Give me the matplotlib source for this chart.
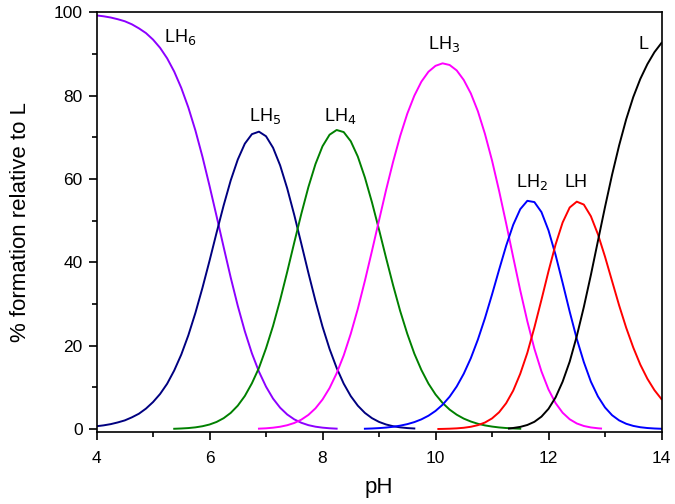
import matplotlib
matplotlib.use("Agg")
from matplotlib import pyplot as plt
from matplotlib.ticker import MultipleLocator

plt.rcParams['font.family'] = ['Liberation Sans', 'DejaVu Sans']

# species distribution (pH, % formation)
ph_lh6 = [4.0, 4.125, 4.25, 4.375, 4.5, 4.625, 4.75, 4.875, 5.0, 5.125, 5.25, 5.375,
          5.5, 5.625, 5.75, 5.875, 6.0, 6.125, 6.25, 6.375, 6.5, 6.625, 6.75, 6.875,
          7.0, 7.125, 7.25, 7.375, 7.5, 7.625, 7.75, 7.875, 8.0, 8.125, 8.25]
lh6 = [99.3, 99.09, 98.8, 98.39, 97.9, 97.17, 96.2, 95.06, 93.5, 91.52, 89.0, 85.82,
       81.9, 77.21, 71.7, 65.38, 58.4, 51.11, 43.7, 36.39, 29.6, 23.49, 18.2, 13.8,
       10.2, 7.32, 5.14, 3.52, 2.35, 1.53, 0.96, 0.59, 0.36, 0.21, 0.12]

ph_lh5 = [4.0, 4.125, 4.25, 4.375, 4.5, 4.625, 4.75, 4.875, 5.0, 5.125, 5.25, 5.375,
          5.5, 5.625, 5.75, 5.875, 6.0, 6.125, 6.25, 6.375, 6.5, 6.625, 6.75, 6.875,
          7.0, 7.125, 7.25, 7.375, 7.5, 7.625, 7.75, 7.875, 8.0, 8.125, 8.25, 8.375,
          8.5, 8.625, 8.75, 8.875, 9.0, 9.125, 9.25, 9.375, 9.5, 9.625]
lh5 = [0.7, 0.91, 1.2, 1.61, 2.1, 2.83, 3.7, 4.93, 6.5, 8.44, 10.9, 14.08,
       17.9, 22.52, 27.9, 33.92, 40.4, 47.16, 53.7, 59.7, 64.7, 68.52, 70.8, 71.4,
       70.3, 67.53, 63.3, 57.79, 51.4, 44.5, 37.5, 30.8, 24.6, 19.24, 14.7, 10.92,
       7.93, 5.63, 3.9, 2.64, 1.74, 1.12, 0.7, 0.43, 0.26, 0.16]

ph_lh4 = [5.375, 5.5, 5.625, 5.75, 5.875, 6.0, 6.125, 6.25, 6.375, 6.5, 6.625, 6.75,
          6.875, 7.0, 7.125, 7.25, 7.375, 7.5, 7.625, 7.75, 7.875, 8.0, 8.125, 8.25,
          8.375, 8.5, 8.625, 8.75, 8.875, 9.0, 9.125, 9.25, 9.375, 9.5, 9.625, 9.75,
          9.875, 10.0, 10.125, 10.25, 10.375, 10.5, 10.625, 10.75, 10.875, 11.0, 11.125,
          11.25, 11.375, 11.5]
lh4 = [0.09, 0.16, 0.26, 0.43, 0.7, 1.11, 1.73, 2.63, 3.9, 5.64, 7.96, 11.0,
       14.7, 19.4, 24.8, 31.0, 37.75, 44.8, 51.69, 58.1, 63.61, 67.9, 70.67, 71.8,
       71.3, 69.1, 65.41, 60.4, 54.45, 47.9, 41.1, 34.5, 28.34, 22.9, 18.13, 14.2,
       10.93, 8.33, 6.29, 4.69, 3.47, 2.53, 1.83, 1.29, 0.9, 0.62, 0.41,
       0.27, 0.17, 0.1]

ph_lh3 = [6.875, 7.0, 7.125, 7.25, 7.375, 7.5, 7.625, 7.75, 7.875, 8.0, 8.125, 8.25,
          8.375, 8.5, 8.625, 8.75, 8.875, 9.0, 9.125, 9.25, 9.375, 9.5, 9.625, 9.75,
          9.875, 10.0, 10.125, 10.25, 10.375, 10.5, 10.625, 10.75, 10.875, 11.0, 11.125,
          11.25, 11.375, 11.5, 11.625, 11.75, 11.875, 12.0, 12.125, 12.25, 12.375, 12.5,
          12.625, 12.75, 12.875, 12.93]
lh3 = [0.12, 0.2, 0.35, 0.58, 0.94, 1.48, 2.28, 3.42, 4.99, 7.11, 9.87, 13.4,
       17.7, 22.9, 28.88, 35.6, 42.76, 50.1, 57.4, 64.2, 70.38, 75.7, 80.03, 83.4,
       85.78, 87.2, 87.8, 87.4, 86.1, 83.8, 80.58, 76.3, 70.87, 64.5, 57.22,
       49.4, 41.27, 33.3, 25.9, 19.3, 13.86, 9.52, 6.26, 3.94, 2.37, 1.37,
       0.76, 0.41, 0.21, 0.15]

ph_lh2 = [8.75, 8.875, 9.0, 9.125, 9.25, 9.375, 9.5, 9.625, 9.75, 9.875, 10.0, 10.125,
          10.25, 10.375, 10.5, 10.625, 10.75, 10.875, 11.0, 11.125, 11.25, 11.375, 11.5,
          11.625, 11.75, 11.875, 12.0, 12.125, 12.25, 12.375, 12.5, 12.625, 12.75, 12.875,
          13.0, 13.125, 13.25, 13.375, 13.5, 13.625, 13.75, 13.875, 14.0]
lh2 = [0.1, 0.16, 0.25, 0.38, 0.57, 0.84, 1.2, 1.69, 2.35, 3.22, 4.37, 5.86,
       7.79, 10.24, 13.3, 17.03, 21.5, 26.63, 32.3, 38.24, 44.0, 49.04, 52.8,
       54.8, 54.5, 52.1, 47.7, 41.83, 35.1, 28.2, 21.7, 16.1, 11.4, 7.85,
       5.21, 3.35, 2.1, 1.29, 0.78, 0.46, 0.27, 0.16, 0.09]

ph_lh = [10.05, 10.125, 10.25, 10.375, 10.5, 10.625, 10.75, 10.875, 11.0, 11.125, 11.25,
         11.375, 11.5, 11.625, 11.75, 11.875, 12.0, 12.125, 12.25, 12.375, 12.5, 12.625,
         12.75, 12.875, 13.0, 13.125, 13.25, 13.375, 13.5, 13.625, 13.75, 13.875, 14.0]
lh = [0.04, 0.06, 0.11, 0.19, 0.33, 0.57, 0.96, 1.59, 2.57, 4.05, 6.22,
      9.24, 13.3, 18.3, 24.4, 31.04, 37.9, 44.31, 49.6, 53.2, 54.6, 53.9,
      51.1, 46.76, 41.4, 35.54, 29.7, 24.34, 19.6, 15.48, 12.1, 9.36, 7.2]

ph_l = [11.3, 11.375, 11.5, 11.625, 11.75, 11.875, 12.0, 12.125, 12.25, 12.375, 12.5,
        12.625, 12.75, 12.875, 13.0, 13.125, 13.25, 13.375, 13.5, 13.625, 13.75, 13.875,
        14.0]
l = [0.15, 0.28, 0.54, 1.0, 1.76, 3.0, 4.88, 7.61, 11.4, 16.2, 22.3,
     29.3, 37.0, 45.18, 53.3, 61.05, 68.1, 74.37, 79.7, 84.06, 87.6, 90.48,
     92.7]

series = [
    (ph_lh6, lh6, '#8c00ff', 'LH$_6$', 5.20, 93.0),
    (ph_lh5, lh5, '#000080', 'LH$_5$', 6.70, 74.0),
    (ph_lh4, lh4, '#008000', 'LH$_4$', 8.02, 74.0),
    (ph_lh3, lh3, '#ff00ff', 'LH$_3$', 9.86, 91.3),
    (ph_lh2, lh2, '#0000ff', 'LH$_2$', 11.42, 58.0),
    (ph_lh, lh, '#ff0000', 'LH', 12.29, 58.0),
    (ph_l, l, '#000000', 'L', 13.59, 91.3),
]

fig = plt.figure(figsize=(6.75, 5.04), dpi=100)
ax = fig.add_axes([0.143, 0.1419, 0.837, 0.8333])

for x, y, c, name, tx, ty in series:
    ax.plot(x, y, color=c, lw=1.4)
    ax.text(tx, ty, name, fontsize=13, ha='left', va='baseline')

ax.set_xlim(4, 14)
ax.set_ylim(-0.8, 100)
ax.xaxis.set_major_locator(MultipleLocator(2))
ax.xaxis.set_minor_locator(MultipleLocator(1))
ax.yaxis.set_major_locator(MultipleLocator(20))
ax.yaxis.set_minor_locator(MultipleLocator(10))
ax.tick_params(which='both', direction='out', top=False, right=False, labelsize=12.5, width=1.2)
ax.tick_params(which='major', length=6)
ax.tick_params(which='minor', length=3.5)
ax.tick_params(axis='x', which='major', pad=7)
ax.tick_params(axis='y', which='major', pad=4)
for s in ax.spines.values():
    s.set_linewidth(1.2)

ax.set_xlabel('pH', fontsize=16, labelpad=8)
ax.set_ylabel('% formation relative to L', fontsize=16, labelpad=16)

fig.savefig('out.png', dpi=100)
